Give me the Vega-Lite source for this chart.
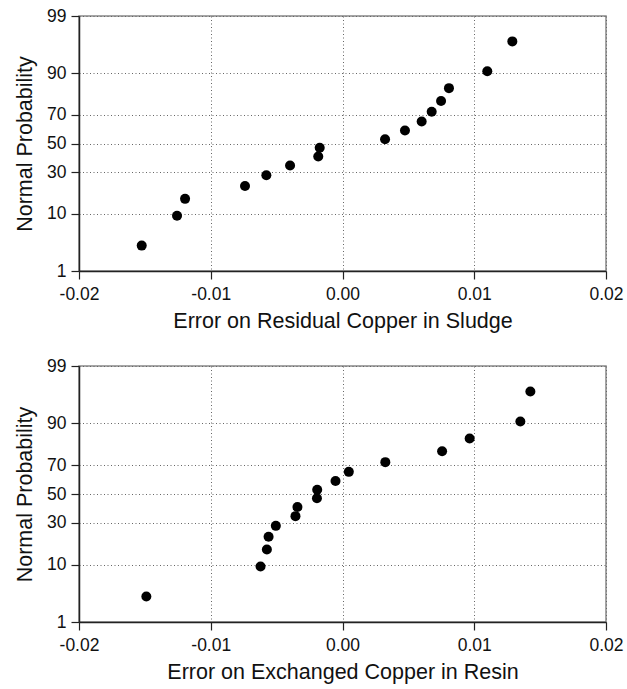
{
  "$schema": "https://vega.github.io/schema/vega-lite/v6.json",
  "padding": {"left": 13, "top": 6, "right": 18, "bottom": 5},
  "spacing": 23,
  "datasets": {
    "sludge": [
      {"error": -0.01524, "normal_score": -1.8627},
      {"error": -0.01256, "normal_score": -1.3180},
      {"error": -0.01195, "normal_score": -1.0100},
      {"error": -0.00740, "normal_score": -0.7764},
      {"error": -0.00578, "normal_score": -0.5791},
      {"error": -0.00398, "normal_score": -0.4023},
      {"error": -0.00184, "normal_score": -0.2372},
      {"error": -0.00173, "normal_score": -0.0784},
      {"error": 0.00323, "normal_score": 0.0784},
      {"error": 0.00474, "normal_score": 0.2372},
      {"error": 0.00601, "normal_score": 0.4023},
      {"error": 0.00677, "normal_score": 0.5791},
      {"error": 0.00748, "normal_score": 0.7764},
      {"error": 0.00808, "normal_score": 1.0100},
      {"error": 0.01099, "normal_score": 1.3180},
      {"error": 0.01289, "normal_score": 1.8627}
    ],
    "resin": [
      {"error": -0.01489, "normal_score": -1.8627},
      {"error": -0.00622, "normal_score": -1.3180},
      {"error": -0.00574, "normal_score": -1.0100},
      {"error": -0.00561, "normal_score": -0.7764},
      {"error": -0.00506, "normal_score": -0.5791},
      {"error": -0.00357, "normal_score": -0.4023},
      {"error": -0.00342, "normal_score": -0.2372},
      {"error": -0.00194, "normal_score": -0.0784},
      {"error": -0.00192, "normal_score": 0.0784},
      {"error": -0.00053, "normal_score": 0.2372},
      {"error": 0.00048, "normal_score": 0.4023},
      {"error": 0.00325, "normal_score": 0.5791},
      {"error": 0.00756, "normal_score": 0.7764},
      {"error": 0.00965, "normal_score": 1.0100},
      {"error": 0.01350, "normal_score": 1.3180},
      {"error": 0.01426, "normal_score": 1.8627}
    ]
  },
  "vconcat": [
    {
      "width": 527,
      "height": 255,
      "data": {"name": "sludge"},
      "mark": {"type": "point", "filled": true, "color": "black", "opacity": 1, "size": 100},
      "encoding": {
        "x": {"field": "error", "type": "quantitative",
              "scale": {"domain": [-0.02, 0.02], "nice": false},
              "axis": {"title": "Error on Residual Copper in Sludge", "values": [-0.02, -0.01, 0, 0.01, 0.02],
                       "labelExpr": "replace(format(datum.value, '.2f'), '\u2212', '-')"}},
        "y": {"field": "normal_score", "type": "quantitative",
              "scale": {"domain": [-2.3263, 2.3263], "nice": false, "zero": false},
              "axis": {"title": "Normal Probability", "values": [-2.3263, -1.2816, -0.5244, 0, 0.5244, 1.2816, 2.3263],
                       "labelExpr": "datum.value < -2 ? '1' : datum.value < -1 ? '10' : datum.value < -0.3 ? '30' : datum.value < 0.3 ? '50' : datum.value < 1 ? '70' : datum.value < 2 ? '90' : '99'"}}
      }
    },
    {
      "width": 527,
      "height": 256,
      "data": {"name": "resin"},
      "mark": {"type": "point", "filled": true, "color": "black", "opacity": 1, "size": 100},
      "encoding": {
        "x": {"field": "error", "type": "quantitative",
              "scale": {"domain": [-0.02, 0.02], "nice": false},
              "axis": {"title": "Error on Exchanged Copper in Resin", "values": [-0.02, -0.01, 0, 0.01, 0.02],
                       "labelExpr": "replace(format(datum.value, '.2f'), '\u2212', '-')"}},
        "y": {"field": "normal_score", "type": "quantitative",
              "scale": {"domain": [-2.3263, 2.3263], "nice": false, "zero": false},
              "axis": {"title": "Normal Probability", "values": [-2.3263, -1.2816, -0.5244, 0, 0.5244, 1.2816, 2.3263],
                       "labelExpr": "datum.value < -2 ? '1' : datum.value < -1 ? '10' : datum.value < -0.3 ? '30' : datum.value < 0.3 ? '50' : datum.value < 1 ? '70' : datum.value < 2 ? '90' : '99'"}}
      }
    }
  ],
  "config": {
    "font": "Liberation Sans",
    "view": {"stroke": "#888888", "strokeWidth": 1.5},
    "axis": {
      "labelFont": "Liberation Sans",
      "labelFontSize": 17.5,
      "labelColor": "#111111",
      "labelPadding": 5,
      "titleFont": "Liberation Sans",
      "titleFontSize": 21.5,
      "titleFontWeight": "normal",
      "titleColor": "#111111",
      "domainColor": "#222222",
      "domainWidth": 1.5,
      "tickColor": "#222222",
      "tickSize": 8,
      "tickWidth": 1.2,
      "gridColor": "#666666",
      "gridDash": [1, 2.5],
      "gridWidth": 1,
      "gridOpacity": 1
    },
    "axisX": {"titlePadding": 8, "labelFlush": false, "labelPadding": 6},
    "axisY": {"titlePadding": 10}
  }
}
